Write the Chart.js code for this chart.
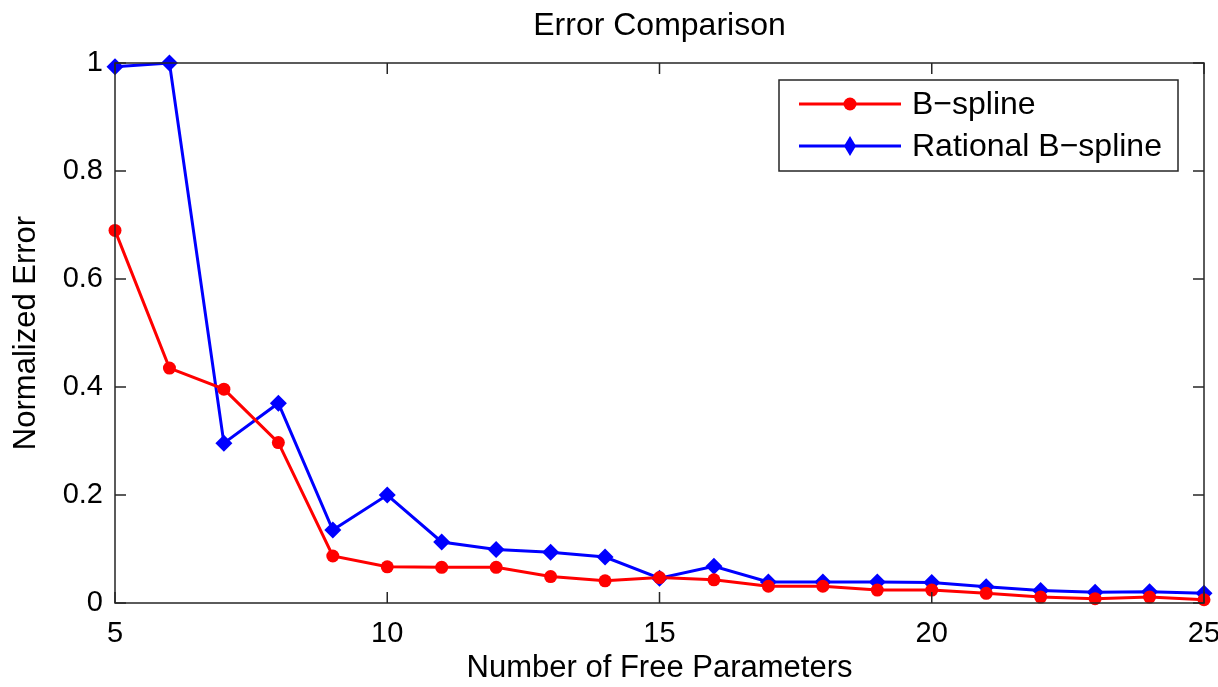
<!DOCTYPE html>
<html>
<head>
<meta charset="utf-8">
<script src="https://cdn.jsdelivr.net/npm/chart.js@4.4.0/dist/chart.umd.min.js"></script>
<style>
  html, body { margin: 0; padding: 0; background: #fff; }
  #wrap { width: 1218px; height: 687px; }
</style>
</head>
<body>
<div id="wrap"><canvas id="chart" width="1218" height="687"></canvas></div>
<script>
var params = [5, 6, 7, 8, 9, 10, 11, 12, 13, 14, 15, 16, 17, 18, 19, 20, 21, 22, 23, 24, 25];
var bspline = [0.690, 0.435, 0.396, 0.297, 0.087, 0.067, 0.066, 0.066, 0.049, 0.041, 0.047, 0.043, 0.031, 0.031, 0.024, 0.024, 0.018, 0.011, 0.008, 0.011, 0.006];
var rational = [0.993, 1.000, 0.296, 0.370, 0.135, 0.200, 0.113, 0.099, 0.094, 0.085, 0.046, 0.068, 0.039, 0.039, 0.039, 0.038, 0.030, 0.023, 0.020, 0.021, 0.018];
var xTicks = [5, 10, 15, 20, 25];
var yTicks = [0, 0.2, 0.4, 0.6, 0.8, 1];

var font = 'Liberation Sans, Arial, sans-serif';

function toPoints(values) {
  var pts = [];
  for (var i = 0; i < params.length; i++) {
    pts.push({ x: params[i], y: values[i] });
  }
  return pts;
}

// frame, inward ticks, title and legend box like MATLAB
var matlabLook = {
  id: 'matlabLook',
  afterDraw: function(chart) {
    var ctx = chart.ctx;
    var a = chart.chartArea;
    var xs = chart.scales.x;
    var ys = chart.scales.y;
    ctx.save();
    ctx.strokeStyle = '#262626';
    ctx.lineWidth = 1.5;
    ctx.strokeRect(a.left, a.top, a.right - a.left, a.bottom - a.top);
    ctx.beginPath();
    xTicks.forEach(function(t) {
      var px = xs.getPixelForValue(t);
      ctx.moveTo(px, a.bottom); ctx.lineTo(px, a.bottom - 11);
      ctx.moveTo(px, a.top); ctx.lineTo(px, a.top + 11);
    });
    yTicks.forEach(function(t) {
      var py = ys.getPixelForValue(t);
      ctx.moveTo(a.left, py); ctx.lineTo(a.left + 11, py);
      ctx.moveTo(a.right, py); ctx.lineTo(a.right - 11, py);
    });
    ctx.stroke();

    // title
    ctx.fillStyle = '#000';
    ctx.font = '32px ' + font;
    ctx.textAlign = 'center';
    ctx.textBaseline = 'middle';
    ctx.fillText('Error Comparison', (a.left + a.right) / 2, 26);

    // legend
    var lx = 779, ly = 80, lw = 399, lh = 91;
    ctx.fillStyle = '#fff';
    ctx.fillRect(lx, ly, lw, lh);
    ctx.strokeStyle = '#262626';
    ctx.lineWidth = 1.5;
    ctx.strokeRect(lx, ly, lw, lh);
    ctx.font = '32px ' + font;
    ctx.textAlign = 'left';
    chart.data.datasets.forEach(function(ds, i) {
      var cy = ly + 24 + i * 42;
      ctx.strokeStyle = ds.borderColor;
      ctx.lineWidth = 3;
      ctx.beginPath();
      ctx.moveTo(lx + 20, cy); ctx.lineTo(lx + 122, cy);
      ctx.stroke();
      ctx.fillStyle = ds.borderColor;
      ctx.beginPath();
      if (ds.pointStyle === 'rectRot') {
        ctx.moveTo(lx + 71, cy - 10); ctx.lineTo(lx + 77, cy);
        ctx.lineTo(lx + 71, cy + 10); ctx.lineTo(lx + 65, cy);
        ctx.closePath();
      } else {
        ctx.arc(lx + 71, cy, 6.5, 0, Math.PI * 2);
      }
      ctx.fill();
      ctx.fillStyle = '#000';
      ctx.fillText(ds.label, lx + 133, cy + 1);
    });
    ctx.restore();
  }
};

new Chart(document.getElementById('chart'), {
  type: 'line',
  data: {
    datasets: [
      {
        label: 'B\u2212spline',
        data: toPoints(bspline),
        borderColor: '#ff0000',
        backgroundColor: '#ff0000',
        borderWidth: 3,
        pointStyle: 'circle',
        pointRadius: 6.5,
        pointBorderWidth: 0,
        tension: 0
      },
      {
        label: 'Rational B\u2212spline',
        data: toPoints(rational),
        borderColor: '#0000ff',
        backgroundColor: '#0000ff',
        borderWidth: 3,
        pointStyle: 'rectRot',
        pointRadius: 8.5,
        pointBorderWidth: 0,
        tension: 0
      }
    ]
  },
  options: {
    responsive: false,
    animation: false,
    clip: false,
    layout: { padding: { top: 63, right: 14, left: 0, bottom: 0 } },
    plugins: {
      legend: { display: false },
      title: { display: false },
      tooltip: { enabled: false }
    },
    scales: {
      x: {
        type: 'linear',
        min: 5,
        max: 25,
        afterFit: function(s) { s.height = 84; s.paddingLeft = 0; s.paddingRight = 0; },
        afterBuildTicks: function(s) { s.ticks = xTicks.map(function(v) { return { value: v }; }); },
        grid: { display: false, drawTicks: false, tickLength: 0 },
        border: { display: false },
        ticks: { color: '#000', font: { family: font, size: 29 }, padding: 14, maxRotation: 0 },
        title: { display: true, text: 'Number of Free Parameters', color: '#000', font: { family: font, size: 31 }, padding: { top: 0, bottom: 0 } }
      },
      y: {
        type: 'linear',
        min: 0,
        max: 1,
        afterFit: function(s) { s.width = 115; s.paddingTop = 0; s.paddingBottom = 0; },
        afterBuildTicks: function(s) { s.ticks = yTicks.map(function(v) { return { value: v }; }); },
        grid: { display: false, drawTicks: false, tickLength: 0 },
        border: { display: false },
        ticks: {
          color: '#000',
          font: { family: font, size: 29 },
          padding: 12,
          callback: function(v) { return String(v); }
        },
        title: { display: true, text: 'Normalized Error', color: '#000', font: { family: font, size: 31 }, padding: { top: 8, bottom: 0 } }
      }
    }
  },
  plugins: [matlabLook]
});
</script>
</body>
</html>
